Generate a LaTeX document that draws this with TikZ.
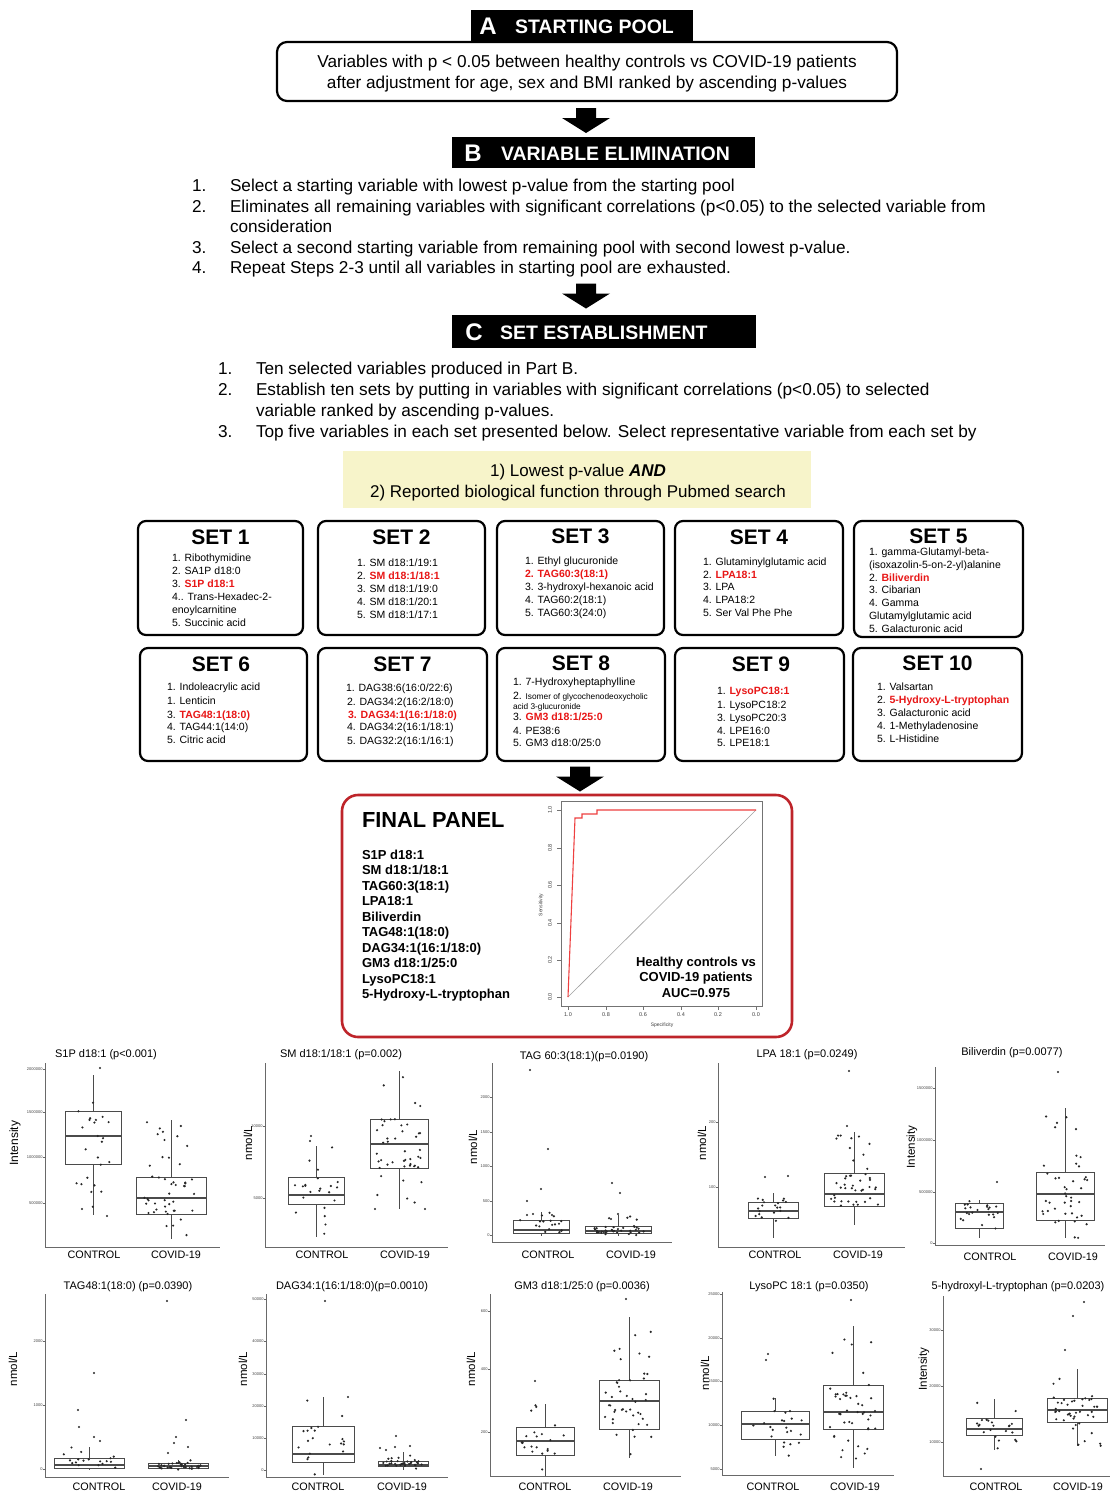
\documentclass[tikz,border=0pt]{standalone}
\usepackage{fontspec}
\setmainfont{Liberation Sans}
\usetikzlibrary{calc}
\definecolor{hired}{RGB}{232,22,22}
\definecolor{panelred}{RGB}{190,36,42}
\definecolor{pale}{RGB}{247,244,202}
\definecolor{axg}{RGB}{105,105,105}
\definecolor{boxg}{RGB}{75,75,75}
\definecolor{rocgray}{RGB}{160,160,160}
\definecolor{rocred}{RGB}{238,64,64}
\newcommand{\fs}[1]{\fontsize{#1}{#1}\selectfont}
\newcommand{\fsl}[2]{\fontsize{#1}{#2}\selectfont}
\newcommand{\rd}[1]{\textcolor{hired}{\bfseries #1}}
\tikzset{
 hdrbox/.style={fill=black, draw=none},
 hdrtxt/.style={text=white, font=\bfseries\fs{19.5}},
 hdrlet/.style={text=white, font=\bfseries\fs{24}},
 lt/.style={font=\fs{17.2}, anchor=mid west, yshift=-3pt},
 setbox/.style={draw=black, line width=2.2pt, rounded corners=8pt},
 settitle/.style={font=\bfseries\fs{21}},
 itm/.style={font=\fs{10.5}, anchor=mid west, yshift=-2pt},
 fpl/.style={font=\bfseries\fs{13}, anchor=mid west, yshift=-3pt},
 axl/.style={draw=axg, line width=0.8pt},
 bpl/.style={draw=boxg, line width=0.8pt},
 dotst/.style={fill=black!85},
 tkl/.style={font=\fs{4}, text=black!75, anchor=east},
 bpt/.style={font=\fs{11}},
 grl/.style={font=\fs{10.8}},
 ylab/.style={font=\fs{11.5}, rotate=90},
 roct/.style={font=\fs{5.5}, text=black!75},
}
% box plot helpers
\newcommand{\bpaxis}[4]{\draw[axl] (#1,#2) -- (#1,#3) -- (#4,#3);}
\newcommand{\bpticks}[3]{\foreach \ty/\tl [count=\ti] in {#2}{\draw[axl] (#1,\ty) -- ++(-2,0); \node[tkl] (tk#3-\ti) at (#1-2.5,\ty) {\tl};}}
\newcommand{\bpgrp}[9]{%
 \draw[bpl] (#1,#3) -- (#1,#7);
 \filldraw[bpl,fill=white] (#1-#2,#4) rectangle (#1+#2,#6);
 \draw[bpl,line width=1.2pt] (#1-#2,#5) -- (#1+#2,#5);
 \foreach \k in {1,...,#8}{\pgfmathsetmacro\bpx{#1+0.8*#2*rand}\pgfmathsetmacro\bpy{#4+(#6-#4)*rnd}\fill[dotst] (\bpx,\bpy) circle[radius=1.2pt];}
 \foreach \k in {1,...,#9}{\pgfmathsetmacro\bpx{#1+0.8*#2*rand}\pgfmathsetmacro\bpy{#3+(#7-#3)*rnd}\fill[dotst] (\bpx,\bpy) circle[radius=1.2pt];}
}
\newcommand{\outl}[1]{\foreach \qx/\qy in {#1}{\fill[dotst] (\qx,\qy) circle[radius=1.2pt];}}
\newcommand{\blockarrow}[1]{\fill[black] ($#1+(-10,-12.5)$) -- ++(20,0) -- ++(0,10) -- ++(14,0) -- ++(-24,15) -- ++(-24,-15) -- ++(14,0) -- cycle;}

\begin{document}
\begin{tikzpicture}[x=1pt,y=-1pt,every node/.style={inner sep=0pt,outer sep=0pt}]
\pgfmathsetseed{7}
\useasboundingbox (0,0) rectangle (1119,1494);
\fill[white] (0,0) rectangle (1119,1494);

% ---------- A ----------
\node[hdrbox, minimum width=222pt, minimum height=31pt] (hA) at (582,25.5) {};
\node[hdrlet] (hAl) at (488,26) {A};
\node[hdrtxt, anchor=west] (hAt) at (515,26.5) {STARTING POOL};
\node[draw=black, line width=2.2pt, rounded corners=10pt, minimum width=620pt, minimum height=59pt] (pool) at (587,71.5) {};
\node[align=center, font=\fsl{17.2}{21}] (pooltxt) at (587,74) {Variables with p < 0.05 between healthy controls vs COVID-19 patients\\after adjustment for age, sex and BMI ranked by ascending p-values};

\coordinate (ar1) at (586,120.5);
\blockarrow{(ar1)}

% ---------- B ----------
\node[hdrbox, minimum width=303pt, minimum height=31pt] (hB) at (603.5,152.5) {};
\node[hdrlet] (hBl) at (473,153) {B};
\node[hdrtxt, anchor=west] (hBt) at (501,153.5) {VARIABLE ELIMINATION};
\node[lt] (b1n) at (192,186) {1.};
\node[lt] (b1) at (230,186) {Select a starting variable with lowest p-value from the starting pool};
\node[lt] (b2n) at (192,207) {2.};
\node[lt] (b2) at (230,207) {Eliminates all remaining variables with significant correlations (p<0.05) to the selected variable from};
\node[lt] (b2b) at (230,227) {consideration};
\node[lt] (b3n) at (192,248) {3.};
\node[lt] (b3) at (230,248) {Select a second starting variable from remaining pool with second lowest p-value.};
\node[lt] (b4n) at (192,268) {4.};
\node[lt] (b4) at (230,268) {Repeat Steps 2-3 until all variables in starting pool are exhausted.};

\coordinate (ar2) at (586,296);
\blockarrow{(ar2)}

% ---------- C ----------
\node[hdrbox, minimum width=304pt, minimum height=33pt] (hC) at (604,331.5) {};
\node[hdrlet] (hCl) at (474,332) {C};
\node[hdrtxt, anchor=west] (hCt) at (500,332.5) {SET ESTABLISHMENT};
\node[lt] (c1n) at (218,369) {1.};
\node[lt] (c1) at (256,369) {Ten selected variables produced in Part B.};
\node[lt] (c2n) at (218,390) {2.};
\node[lt] (c2) at (256,390) {Establish ten sets by putting in variables with significant correlations (p<0.05) to selected};
\node[lt] (c2b) at (256,411) {variable ranked by ascending p-values.};
\node[lt] (c3n) at (218,432) {3.};
\node[lt] (c3) at (256,432) {Top five variables in each set presented below. Select representative variable from each set by};

\node[fill=pale, minimum width=468pt, minimum height=57pt] (yel) at (577,479.5) {};
\node[font=\fs{17}] (y1) at (578,472) {1) Lowest p-value \textbf{\textit{AND}}};
\node[font=\fs{17}] (y2) at (578,493) {2) Reported biological function through Pubmed search};

% ---------- sets row 1 ----------
\node[setbox, minimum width=165pt, minimum height=114pt] (s1) at (220.5,578) {};
\node[setbox, minimum width=167pt, minimum height=114pt] (s2) at (401.5,578) {};
\node[setbox, minimum width=167pt, minimum height=114pt] (s3) at (580.5,578) {};
\node[setbox, minimum width=168pt, minimum height=114pt] (s4) at (759,578) {};
\node[setbox, minimum width=169pt, minimum height=116pt] (s5) at (938.5,579) {};
\node[settitle] (st1) at (220.5,537) {SET 1};
\node[settitle] (st2) at (401.5,537) {SET 2};
\node[settitle] (st3) at (580.5,536) {SET 3};
\node[settitle] (st4) at (759,537) {SET 4};
\node[settitle] (st5) at (938.5,536) {SET 5};

\node[itm] (i1a) at (172,557) {1. Ribothymidine};
\node[itm] (i1b) at (172,570) {2. SA1P d18:0};
\node[itm] (i1c) at (172,583) {3. \rd{S1P d18:1}};
\node[itm] (i1d) at (172,596) {4.. Trans-Hexadec-2-};
\node[itm] (i1e) at (172,609) {enoylcarnitine};
\node[itm] (i1f) at (172,622) {5. Succinic acid};

\node[itm] (i2a) at (357,562) {1. SM d18:1/19:1};
\node[itm] (i2b) at (357,575) {2. \rd{SM d18:1/18:1}};
\node[itm] (i2c) at (357,588) {3. SM d18:1/19:0};
\node[itm] (i2d) at (357,601) {4. SM d18:1/20:1};
\node[itm] (i2e) at (357,614) {5. SM d18:1/17:1};

\node[itm] (i3a) at (525,560) {1. Ethyl glucuronide};
\node[itm] (i3b) at (525,573) {\rd{2. TAG60:3(18:1)}};
\node[itm] (i3c) at (525,586) {3. 3-hydroxyl-hexanoic acid};
\node[itm] (i3d) at (525,599) {4. TAG60:2(18:1)};
\node[itm] (i3e) at (525,612) {5. TAG60:3(24:0)};

\node[itm] (i4a) at (703,561) {1. Glutaminylglutamic acid};
\node[itm] (i4b) at (703,574) {2. \rd{LPA18:1}};
\node[itm] (i4c) at (703,586) {3. LPA};
\node[itm] (i4d) at (703,599) {4. LPA18:2};
\node[itm] (i4e) at (703,612) {5. Ser Val Phe Phe};

\node[itm, yshift=1.5pt] (i5a) at (869,552) {1. gamma-Glutamyl-beta-};
\node[itm, yshift=1.5pt] (i5b) at (869,565) {(isoxazolin-5-on-2-yl)alanine};
\node[itm, yshift=1.5pt] (i5c) at (869,578) {2. \rd{Biliverdin}};
\node[itm, yshift=1.5pt] (i5d) at (869,590.5) {3. Cibarian};
\node[itm, yshift=1.5pt] (i5e) at (869,603.5) {4. Gamma};
\node[itm, yshift=1.5pt] (i5f) at (869,616) {Glutamylglutamic acid};
\node[itm, yshift=1.5pt] (i5g) at (869,629) {5. Galacturonic acid};

% ---------- sets row 2 ----------
\node[setbox, minimum width=167pt, minimum height=113pt] (s6) at (223.5,704.5) {};
\node[setbox, minimum width=169pt, minimum height=113pt] (s7) at (402.5,704.5) {};
\node[setbox, minimum width=168pt, minimum height=113pt] (s8) at (581,704.5) {};
\node[setbox, minimum width=169pt, minimum height=113pt] (s9) at (759.5,704.5) {};
\node[setbox, minimum width=169pt, minimum height=113pt] (s10) at (937.5,704.5) {};
\node[settitle] (st6) at (221,664) {SET 6};
\node[settitle] (st7) at (402.5,664) {SET 7};
\node[settitle] (st8) at (581,663) {SET 8};
\node[settitle] (st9) at (761,664) {SET 9};
\node[settitle] (st10) at (937.5,663) {SET 10};

\node[itm] (i6a) at (167,686) {1. Indoleacrylic acid};
\node[itm] (i6b) at (167,700) {1. Lenticin};
\node[itm] (i6c) at (167,714) {3. \rd{TAG48:1(18:0)}};
\node[itm] (i6d) at (167,726) {4. TAG44:1(14:0)};
\node[itm] (i6e) at (167,739) {5. Citric acid};

\node[itm] (i7a) at (346,687) {1. DAG38:6(16:0/22:6)};
\node[itm] (i7b) at (347,701) {2. DAG34:2(16:2/18:0)};
\node[itm] (i7c) at (348,714) {\rd{3. DAG34:1(16:1/18:0)}};
\node[itm] (i7d) at (347,726) {4. DAG34:2(16:1/18:1)};
\node[itm] (i7e) at (347,740) {5. DAG32:2(16:1/16:1)};

\node[itm] (i8a) at (513,681) {1. 7-Hydroxyheptaphylline};
\node[itm] (i8b) at (513,695) {2. {\fs{8.3}Isomer of glycochenodeoxycholic}};
\node[itm, font=\fs{8.3}] (i8c) at (513,705) {acid 3-glucuronide};
\node[itm] (i8d) at (513,716) {3. \rd{GM3 d18:1/25:0}};
\node[itm] (i8e) at (513,730) {4. PE38:6};
\node[itm] (i8f) at (513,742) {5. GM3 d18:0/25:0};

\node[itm] (i9a) at (717,690) {1. \rd{LysoPC18:1}};
\node[itm] (i9b) at (717,704) {1. LysoPC18:2};
\node[itm] (i9c) at (717,717) {3. LysoPC20:3};
\node[itm] (i9d) at (717,730) {4. LPE16:0};
\node[itm] (i9e) at (717,742) {5. LPE18:1};

\node[itm] (i10a) at (877,686) {1. Valsartan};
\node[itm] (i10b) at (877,699) {2. \rd{5-Hydroxy-L-tryptophan}};
\node[itm] (i10c) at (877,712) {3. Galacturonic acid};
\node[itm] (i10d) at (877,725) {4. 1-Methyladenosine};
\node[itm] (i10e) at (877,738) {5. L-Histidine};

\coordinate (ar3) at (580,779);
\blockarrow{(ar3)}

% ---------- final panel ----------
\node[draw=panelred, line width=2.6pt, rounded corners=16pt, minimum width=450pt, minimum height=242pt] (final) at (567,916) {};
\node[font=\bfseries\fs{21.8}, anchor=mid west, yshift=-4pt] (fpt) at (362,821) {FINAL PANEL};
\node[fpl] (f1) at (362,854) {S1P d18:1};
\node[fpl] (f2) at (362,869) {SM d18:1/18:1};
\node[fpl] (f3) at (362,885) {TAG60:3(18:1)};
\node[fpl] (f4) at (362,900) {LPA18:1};
\node[fpl] (f5) at (362,916) {Biliverdin};
\node[fpl] (f6) at (362,931) {TAG48:1(18:0)};
\node[fpl] (f7) at (362,947) {DAG34:1(16:1/18:0)};
\node[fpl] (f8) at (362,962) {GM3 d18:1/25:0};
\node[fpl] (f9) at (362,978) {LysoPC18:1};
\node[fpl] (f10) at (362,993) {5-Hydroxy-L-tryptophan};

% ROC
\draw[black!55, line width=0.6pt] (561,801) rectangle (762,1006);
\foreach \v/\yy [count=\i] in {0.0/997,0.2/960,0.4/923,0.6/885,0.8/848,1.0/810}{\draw[black!55,line width=0.5pt] (561,\yy) -- (557,\yy); \node[roct,rotate=90] (ry\i) at (550,\yy) {\v};}
\foreach \v/\xx [count=\i] in {1.0/568,0.8/606,0.6/643,0.4/681,0.2/718,0.0/756}{\draw[black!55,line width=0.5pt] (\xx,1006) -- (\xx,1010); \node[roct] (rx\i) at (\xx,1015) {\v};}
\node[roct, font=\fs{5}] (rxl) at (662,1025) {Specificity};
\node[roct, font=\fs{5}, rotate=90] (ryl) at (541,905) {Sensitivity};
\draw[rocgray, line width=0.6pt] (568,997) -- (756,810);
\draw[rocred, line width=1.1pt] (568,997) -- (575,818) -- (582,818) -- (582,814) -- (597,814) -- (597,810) -- (756,810);
\node[align=center, font=\bfseries\fsl{13}{15.5}] (roctxt) at (696,977) {Healthy controls vs\\COVID-19 patients\\AUC=0.975};

% ---------- box plots row 1 ----------
% P1
\node[bpt] (pt1) at (106,1055) {S1P d18:1 (p<0.001)};
\node[ylab, font=\fs{12}] (py1) at (15,1143) {Intensity};
\bpaxis{45}{1063}{1247}{220}
\bpticks{45}{1069/2000000,1112/1500000,1157/1000000,1203/500000}{1}
\bpgrp{93}{28}{1075}{1111}{1136}{1164}{1215}{12}{11}
\outl{100/1068,82/1209,107/1216}
\bpgrp{171}{35}{1120}{1177}{1198}{1214}{1239}{24}{22}
\node[grl] (pc1) at (94,1255) {CONTROL};
\node[grl] (pv1) at (176,1255) {COVID-19};
% P2
\node[bpt] (pt2) at (341,1055) {SM d18:1/18:1 (p=0.002)};
\node[ylab] (py2) at (248,1143) {nmol/L};
\bpaxis{265}{1063}{1247}{448}
\bpticks{265}{1126/10000,1198/5000}{2}
\bpgrp{316}{28}{1146}{1177}{1195}{1204}{1237}{12}{10}
\outl{311/1136,310/1141}
\bpgrp{399}{29}{1071}{1119}{1144}{1168}{1209}{25}{20}
\outl{375/1209,425/1209}
\node[grl] (pc2) at (322,1255) {CONTROL};
\node[grl] (pv2) at (405,1255) {COVID-19};
% P3
\node[bpt] (pt3) at (584,1057) {TAG 60:3(18:1)(p=0.0190)};
\node[ylab] (py3) at (473,1147) {nmol/L};
\bpaxis{492}{1063}{1242}{672}
\bpticks{492}{1097/2000,1132/1500,1166/1000,1201/500,1235/0}{3}
\bpgrp{541}{28}{1212}{1220}{1230}{1233}{1236}{12}{6}
\outl{530/1070,548/1149,541/1189,527/1201,527/1215,552/1215,533/1214}
\bpgrp{618}{33}{1215}{1226}{1231}{1233}{1236}{25}{15}
\outl{612/1183,620/1193,618/1214,611/1219}
\node[grl] (pc3) at (548,1255) {CONTROL};
\node[grl] (pv3) at (631,1255) {COVID-19};
% P4
\node[bpt] (pt4) at (807,1055) {LPA 18:1 (p=0.0249)};
\node[ylab] (py4) at (702,1143) {nmol/L};
\bpaxis{718}{1063}{1247}{905}
\bpticks{718}{1122/200,1187/100}{4}
\bpgrp{773}{25}{1193}{1202}{1211}{1218}{1238}{10}{10}
\outl{765/1177,788/1176}
\bpgrp{854}{30}{1132}{1173}{1194}{1206}{1225}{25}{18}
\outl{849/1071,847/1126}
\node[grl] (pc4) at (775,1255) {CONTROL};
\node[grl] (pv4) at (858,1255) {COVID-19};
% P5
\node[bpt] (pt5) at (1012,1053) {Biliverdin (p=0.0077)};
\node[ylab] (py5) at (912,1147) {Intensity};
\bpaxis{935}{1067}{1245}{1105}
\bpticks{935}{1088/1500000,1140/1000000,1192/500000,1243/0}{5}
\bpgrp{979}{24}{1200}{1203}{1212}{1228}{1238}{12}{10}
\outl{997/1182}
\bpgrp{1065}{29}{1108}{1172}{1194}{1220}{1238}{25}{18}
\outl{1058/1072}
\node[grl] (pc5) at (990,1257) {CONTROL};
\node[grl] (pv5) at (1073,1257) {COVID-19};

% ---------- box plots row 2 ----------
% P6
\node[bpt] (pt6) at (128,1287) {TAG48:1(18:0) (p=0.0390)};
\node[ylab] (py6) at (13,1369) {nmol/L};
\bpaxis{45}{1294}{1477}{229}
\bpticks{45}{1341/2000,1405/1000,1469/0}{6}
\bpgrp{89}{35}{1447}{1458}{1465}{1468}{1470}{12}{6}
\outl{94/1373,78/1410,79/1427,94/1437,100/1441}
\bpgrp{178}{30}{1460}{1463}{1466}{1468}{1470}{25}{12}
\outl{167/1301,186/1420,176/1437,188/1447,168/1453,174/1443}
\node[grl] (pc6) at (99,1487) {CONTROL};
\node[grl] (pv6) at (177,1487) {COVID-19};
% P7
\node[bpt] (pt7) at (352,1287) {DAG34:1(16:1/18:0)(p=0.0010)};
\node[ylab] (py7) at (243,1369) {nmol/L};
\bpaxis{266}{1294}{1477}{448}
\bpticks{266}{1299/50000,1341/40000,1374/30000,1406/20000,1438/10000,1470/0}{7}
\bpgrp{323}{31}{1397}{1426}{1454}{1462}{1475}{12}{8}
\outl{325/1301,348/1397}
\bpgrp{403}{25}{1452}{1461}{1465}{1466}{1470}{25}{10}
\outl{396/1436,395/1447,386/1450,410/1446,380/1448}
\node[grl] (pc7) at (318,1487) {CONTROL};
\node[grl] (pv7) at (402,1487) {COVID-19};
% P8
\node[bpt] (pt8) at (582,1287) {GM3 d18:1/25:0 (p=0.0036)};
\node[ylab] (py8) at (471,1369) {nmol/L};
\bpaxis{490}{1294}{1476}{681}
\bpticks{490}{1311/600,1369/400,1432/200}{8}
\bpgrp{545}{29}{1404}{1427}{1441}{1455}{1476}{12}{10}
\outl{535/1381}
\bpgrp{629}{30}{1317}{1380}{1401}{1429}{1458}{25}{20}
\outl{626/1299}
\node[grl] (pc8) at (545,1487) {CONTROL};
\node[grl] (pv8) at (628,1487) {COVID-19};
% P9
\node[bpt] (pt9) at (809,1287) {LysoPC 18:1 (p=0.0350)};
\node[ylab] (py9) at (705,1373) {nmol/L};
\bpaxis{722}{1292}{1475}{894}
\bpticks{722}{1294/25000,1338/20000,1381/15000,1425/10000,1469/5000}{9}
\bpgrp{775}{34}{1398}{1411}{1424}{1439}{1456}{12}{10}
\outl{768/1354,766/1360}
\bpgrp{853}{30}{1326}{1385}{1412}{1429}{1468}{25}{20}
\outl{851/1300}
\node[grl] (pc9) at (773,1487) {CONTROL};
\node[grl] (pv9) at (855,1487) {COVID-19};
% P10
\node[bpt] (pt10) at (1018,1287) {5-hydroxyl-L-tryptophan (p=0.0203)};
\node[ylab] (py10) at (924,1369) {Intensity};
\bpaxis{943}{1296}{1476}{1110}
\bpticks{943}{1330/30000,1386/20000,1442/10000}{10}
\bpgrp{994}{28}{1399}{1418}{1429}{1435}{1450}{12}{10}
\outl{981/1469}
\bpgrp{1077}{30}{1369}{1398}{1410}{1422}{1446}{25}{18}
\outl{1084/1302,1073/1316,1065/1350}
\node[grl] (pc10) at (996,1487) {CONTROL};
\node[grl] (pv10) at (1078,1487) {COVID-19};
\end{tikzpicture}
\end{document}
